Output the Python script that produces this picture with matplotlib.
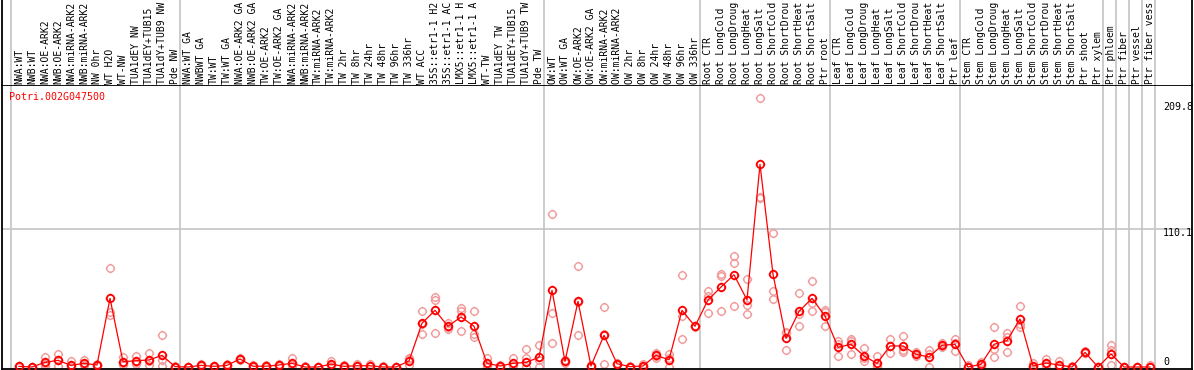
import numpy as np
import matplotlib
matplotlib.use("Agg")
import matplotlib.pyplot as plt
from matplotlib.path import Path

# sample names (column labels)
labels = [
    "NWA:WT", "NWB:WT", "NWA:OE-ARK2", "NWB:OE-ARK2", "NWA:miRNA-ARK2", "NWB:miRNA-ARK2",
    "NW 0hr", "WT H2O", "WT-NW", "TUA1dEY NW", "TUA1dEY+TUB15 NW", "TUA1dY+TUB9 NW", "Pde NW",
    "NWA:WT GA", "NWBWT GA", "TW:WT", "TW:WT GA", "NWA:OE-ARK2 GA", "NWB:OE-ARK2 GA",
    "TW:OE-ARK2", "TW:OE-ARK2 GA", "NWA:miRNA-ARK2 GA", "NWB:miRNA-ARK2 GA", "TW:miRNA-ARK2",
    "TW:miRNA-ARK2 GA", "TW 2hr", "TW 8hr", "TW 24hr", "TW 48hr", "TW 96hr", "TW 336hr", "WT ACC",
    "35S::etr1-1 H2O", "35S::etr1-1 ACC", "LMX5::etr1-1 H2O", "LMX5::etr1-1 ACC", "WT-TW",
    "TUA1dEY TW", "TUA1dEY+TUB15 TW", "TUA1dY+TUB9 TW", "Pde TW",
    "OW:WT", "OW:WT GA", "OW:OE-ARK2", "OW:OE-ARK2 GA", "OW:miRNA-ARK2", "OW:miRNA-ARK2 GA",
    "OW 2hr", "OW 8hr", "OW 24hr", "OW 48hr", "OW 96hr", "OW 336hr",
    "Root CTR", "Root LongCold", "Root LongDrought", "Root LongHeat", "Root LongSalt",
    "Root ShortCold", "Root ShortDrought", "Root ShortHeat", "Root ShortSalt", "Ptr root",
    "Leaf CTR", "Leaf LongCold", "Leaf LongDrought", "Leaf LongHeat", "Leaf LongSalt",
    "Leaf ShortCold", "Leaf ShortDrought", "Leaf ShortHeat", "Leaf ShortSalt", "Ptr leaf",
    "Stem CTR", "Stem LongCold", "Stem LongDrought", "Stem LongHeat", "Stem LongSalt",
    "Stem ShortCold", "Stem ShortDrought", "Stem ShortHeat", "Stem ShortSalt", "Ptr shoot",
    "Ptr xylem", "Ptr phloem", "Ptr fiber", "Ptr vessel", "Ptr fiber vessel",
]
group_sizes = [13, 28, 12, 10, 10, 11, 1, 1, 1, 1]

# mean expression per sample
mean = [0.5, 0, 3.7, 5.3, 1.3, 2.9, 1.6, 54.8, 4.2, 5.0, 5.6, 9.3, 0.3,
        0, 1.3, 0.5, 1.3, 6.4, 0.6, 0.6, 1.6, 2.9, 0, 0, 2.3, 0.5, 1.0, 1.0, 0, 0,
        4.8, 34.9, 45.2, 32.5, 39.9, 32.5, 2.9, 0.8, 2.9, 3.7, 7.7,
        61.2, 4.5, 52.4, 0.8, 25.3, 2.6, 0.3, 0.8, 9.3, 5.8, 45.2, 32.5,
        53.5, 63.8, 73.6, 53.5, 161.7, 74.0, 22.9, 44.4, 54.8, 40.7,
        15.7, 18.1, 8.8, 2.9, 16.8, 16.8, 10.1, 8.0, 17.3, 18.1,
        0, 2.1, 18.1, 21.0, 38.3, 0.8, 3.2, 1.6, 0, 11.7, 0,
        10.4, 0, 0, 0]

# replicate values
rep1 = [0.5, 0, 8.2, 10.1, 5.0, 5.6, 1.6, 78.7, 8.2, 8.8, 10.9, 25.3, 0,
        0, 1.3, 0.5, 2.5, 7.0, 0.5, 1.5, 2.5, 6.9, 0, 0, 5.0, 1.5, 2.0, 2.0, 0.5, 0,
        6.9, 44.7, 56.1, 35.3, 46.8, 44.7, 6.9, 1.5, 6.9, 14.4, 17.6,
        121.8, 5.5, 80.3, 0, 47.6, 3.5, 0.5, 2.5, 11.4, 10.1, 73.2, 32.5,
        60.6, 74.2, 88.6, 70.0, 214.4, 106.7, 27.7, 58.8, 68.4, 45.5,
        21.0, 22.6, 14.9, 8.8, 22.1, 25.0, 12.0, 13.6, 19.1, 22.3,
        1.5, 4.3, 31.7, 26.9, 48.9, 3.4, 6.1, 5.0, 0, 13.0, 0,
        17.3, 0, 0, 1.5]
rep2 = [0, 0, 0.5, 0.5, 0, 1.6, 0.5, 44.0, 1.6, 2.3, 1.6, 5.6, 0.5,
        0, 0.5, 0, 0.5, 5.5, 0, 0, 0.5, 0.5, 0, 0, 0.5, 0, 0.5, 0.5, 0, 0,
        1.6, 26.0, 53.5, 32.0, 44.9, 26.0, 0, 0, 0.5, 6.9, 0,
        42.8, 3.5, 25.3, 1.5, 2.4, 1.5, 0, 0, 7.5, 0, 40.4, 32.0,
        42.8, 72.5, 83.0, 49.2, 135.4, 60.6, 13.6, 32.7, 50.8, 44.0,
        8.8, 10.1, 5.0, 0, 10.9, 13.6, 8.5, 0, 16.0, 12.8,
        0, 0.5, 8.2, 12.0, 31.7, 0, 1.0, 0, 0.5, 11.0, 0,
        13.5, 0, 0, 0]
rep3 = [1.0, 0.3, 2.5, 5.3, 0.5, 1.5, 2.5, 41.5, 3.0, 4.0, 4.5, 0.5, 0.3,
        0, 2.0, 1.0, 1.0, 6.5, 1.3, 0.5, 1.6, 1.3, 0.5, 0, 1.5, 0.5, 1.0, 1.0, 0, 0,
        6.0, 34.0, 26.9, 30.0, 28.7, 24.2, 1.5, 0.8, 1.5, 0, 5.5,
        18.9, 4.5, 52.0, 0.8, 26.0, 2.6, 0.3, 0.5, 9.0, 7.0, 22.3, 33.0,
        57.0, 44.7, 48.9, 42.3, 135.0, 54.0, 27.0, 42.0, 44.9, 32.7,
        18.0, 21.0, 7.0, 0.5, 17.0, 12.0, 10.0, 10.0, 17.0, 19.0,
        0, 1.5, 14.0, 24.0, 34.0, 0, 2.5, 0, 0, 11.0, 0,
        1.3, 0, 0, 0]

yticks = [209.8, 110.1, 0]
gene = "Potri.002G047500"

W, H = 1194, 370
def box(l, t, r, b):
    return [l / W, 1 - b / H, (r - l) / W, (b - t) / H]

plt.rcParams['font.family'] = ['DejaVu Sans Mono']
fig = plt.figure(figsize=(W / 100, H / 100), dpi=100)
ax = fig.add_axes(box(2, 85, 1192, 369))
hx = fig.add_axes(box(2, 0, 1192, 85))

x = np.arange(len(labels))
xl = ((2 - 19) / 13, (1192 - 19) / 13)
ax.set_xlim(xl)
ax.set_ylim(-2 / 1.2534, 282 / 1.2534)
hx.set_xlim(xl)
hx.set_ylim(85, 0)

# group separators
bounds = np.concatenate([[0], np.cumsum(group_sizes)]) - 8 / 13
for b in bounds:
    ax.axvline(b, color='#c4c4c4', lw=1.2, zorder=0)
    hx.axvline(b, color='#c4c4c4', lw=1.2, zorder=0)
ax.axhline(yticks[1], color='#c4c4c4', lw=1.2, zorder=0)

# circle marker (polygon) with four tiny ticks
r = 0.78
t = np.linspace(0, 2 * np.pi, 33)
verts = [(r * np.cos(a), r * np.sin(a)) for a in t]
codes = [Path.MOVETO] + [Path.LINETO] * 32
for dx, dy in [(0, 1), (0, -1), (1, 0), (-1, 0)]:
    verts += [(dx * r, dy * r), (dx, dy)]
    codes += [Path.MOVETO, Path.LINETO]
mk = Path(verts, codes)

for rep in (rep1, rep2, rep3):
    ax.plot(x, rep, ls='none', marker=mk, ms=6.8, mfc='none', mec='#f09a9a', mew=1.0, zorder=2)
ax.plot(x, mean, '-', color='red', lw=0.9, marker=mk, ms=6.8, mfc='none',
        mec='red', mew=1.3, zorder=3)

ax.text(7 / 1190, 1 - 12 / 284, gene, transform=ax.transAxes, color='red',
        fontsize=7.2, ha='left', va='center')
for v, off in zip(yticks, [-3, -4, 5]):
    ax.annotate(str(v) if v else "0", (88, v), xytext=(0, off), textcoords='offset pixels',
                fontsize=7.2, ha='left', va='center', annotation_clip=False)

# header shows at most 14 characters of each name
for k, lab in enumerate(labels):
    hx.text(k, 84, lab[:14], rotation=90, ha='center', va='bottom', fontsize=7.0)

for a in (ax, hx):
    a.set_xticks([])
    a.set_yticks([])
    for s in a.spines.values():
        s.set_linewidth(1.3)
hx.spines['top'].set_visible(False)
hx.spines['bottom'].set_visible(False)

fig.savefig("out.png", dpi=100)
